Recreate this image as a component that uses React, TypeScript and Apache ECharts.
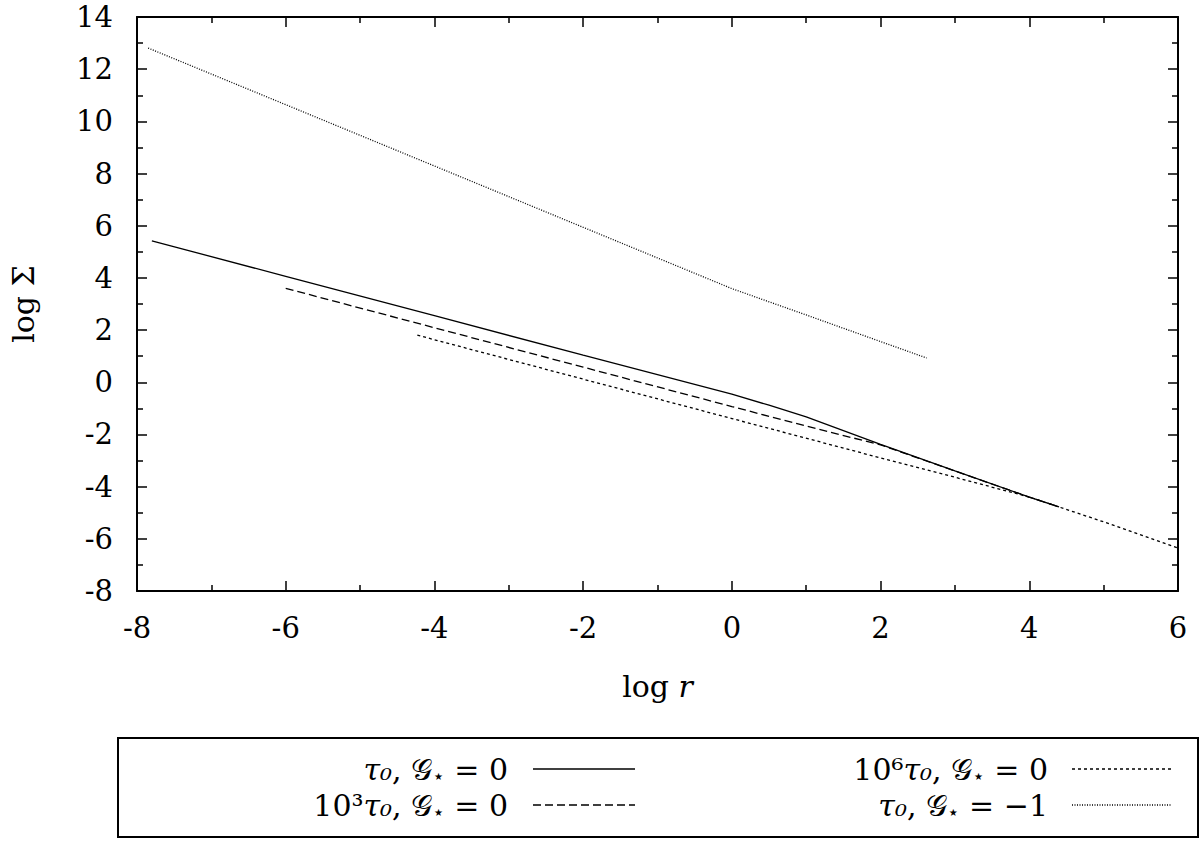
import React, { useEffect, useRef } from 'react';
import * as echarts from 'echarts';

// log r / log Sigma for each model
const rA = [-7.8, -6, -4, -2, 0, 0.5, 1, 2, 3, 4, 4.4];
const sA = [5.42, 4.06, 2.55, 1.04, -0.45, -0.88, -1.33, -2.38, -3.4, -4.4, -4.78];

const rB = [-6, -4, -2, 0, 1, 2, 3, 4, 4.4];
const sB = [3.6, 2.09, 0.58, -0.93, -1.68, -2.4, -3.4, -4.4, -4.78];

const rC = [-4.23, -4, -2, 0, 2, 3, 4, 5, 6];
const sC = [1.81, 1.63, 0.12, -1.39, -2.9, -3.64, -4.4, -5.35, -6.35];

const rD = [-7.85, -6, -4, -2, 0, 1, 2, 2.62];
const sD = [12.81, 10.64, 8.29, 5.94, 3.59, 2.58, 1.56, 0.93];

const xTicks = [-8, -6, -4, -2, 0, 2, 4, 6];
const yTicks = [-8, -6, -4, -2, 0, 2, 4, 6, 8, 10, 12, 14];

const seriesNames = ['tau0_G0', 'tau0e3_G0', 'tau0e6_G0', 'tau0_Gm1'];

const FONT = 'DejaVu Serif';

const pairs = (xs: number[], ys: number[]) => xs.map((x, i) => [x, ys[i]]);

export default function App() {
  const ref = useRef<HTMLDivElement>(null);
  useEffect(() => {
    if (!ref.current) return;
    const chart = echarts.init(ref.current, undefined, { renderer: 'svg' });
    const axisCommon = {
      type: 'value' as const,
      interval: 2,
      axisLine: { show: true, onZero: false, lineStyle: { color: '#000', width: 2 } },
      axisTick: { show: true, inside: true, length: 10, lineStyle: { color: '#000', width: 1.5 } },
      minorTick: { show: true, splitNumber: 2, length: 6, lineStyle: { color: '#000', width: 1.5 } },
      splitLine: { show: false },
    };
    const rich = {
      i: { fontFamily: FONT, fontStyle: 'italic', fontSize: 30, lineHeight: 34, color: '#000' },
      u: { fontFamily: FONT, fontSize: 30, lineHeight: 34, color: '#000' },
      g: { fontFamily: FONT, fontSize: 30, lineHeight: 34, color: '#000' },
      st: { fontFamily: 'DejaVu Sans', fontSize: 20, lineHeight: 18, verticalAlign: 'bottom', color: '#000' },
    };
    const legendItems = [
      { text: '{i|τ₀}{u|, }{g|𝒢}{st|⋆}{u| = 0}', x: 508, y: 769, x1: 533, x2: 635, dash: null as any },
      { text: '{u|10³}{i|τ₀}{u|, }{g|𝒢}{st|⋆}{u| = 0}', x: 508, y: 805, x1: 533, x2: 635, dash: [8, 4] },
      { text: '{u|10⁶}{i|τ₀}{u|, }{g|𝒢}{st|⋆}{u| = 0}', x: 1048, y: 769, x1: 1072, x2: 1172, dash: [3, 3] },
      { text: '{i|τ₀}{u|, }{g|𝒢}{st|⋆}{u| = −1}', x: 1048, y: 805, x1: 1072, x2: 1172, dash: [1, 1.5] },
    ];
    const graphic: any[] = [
      {
        type: 'rect',
        shape: { x: 118, y: 738, width: 1080, height: 99 },
        style: { fill: 'none', stroke: '#000', lineWidth: 2 },
      },
    ];
    legendItems.forEach((it) => {
      graphic.push({
        type: 'text',
        x: it.x,
        y: it.y,
        style: { text: it.text, align: 'right', verticalAlign: 'middle', rich },
      });
      graphic.push({
        type: 'line',
        shape: { x1: it.x1, y1: it.y, x2: it.x2, y2: it.y },
        style: { stroke: '#000', lineWidth: 1.3, lineDash: it.dash || undefined },
      });
    });
    const lineStyles = [
      { type: 'solid' as any, width: 1.3 },
      { type: [8, 4] as any, width: 1.3 },
      { type: [3, 3] as any, width: 1.3 },
      { type: [1, 1.5] as any, width: 1.3 },
    ];
    const data = [pairs(rA, sA), pairs(rB, sB), pairs(rC, sC), pairs(rD, sD)];
    chart.setOption({
      animation: false,
      backgroundColor: '#fff',
      grid: { left: 137, right: 22, top: 17, bottom: 250, show: false },
      xAxis: [
        {
          ...axisCommon,
          min: -8,
          max: 6,
          position: 'bottom',
          name: '{u|log }{i|r}',
          nameLocation: 'middle',
          nameGap: 78,
          nameTextStyle: { rich },
          axisLabel: {
            fontFamily: FONT,
            fontSize: 29,
            color: '#000',
            margin: 22,
            formatter: (v: number) => (xTicks.includes(v) ? String(v) : ''),
          },
        },
        {
          ...axisCommon,
          min: -8,
          max: 6,
          position: 'top',
          axisLabel: { show: false },
        },
      ],
      yAxis: [
        {
          ...axisCommon,
          min: -8,
          max: 14,
          position: 'left',
          name: '{u|log Σ}',
          nameLocation: 'middle',
          nameRotate: 90,
          nameGap: 97,
          nameTextStyle: { rich },
          axisLabel: {
            fontFamily: FONT,
            fontSize: 29,
            color: '#000',
            margin: 24,
            formatter: (v: number) => (yTicks.includes(v) ? String(v) : ''),
          },
        },
        {
          ...axisCommon,
          min: -8,
          max: 14,
          position: 'right',
          axisLabel: { show: false },
        },
      ],
      series: data.map((d, i) => ({
        name: seriesNames[i],
        type: 'line',
        data: d,
        showSymbol: false,
        symbol: 'none',
        lineStyle: { color: '#000', ...lineStyles[i] },
      })),
      graphic,
    });
    return () => chart.dispose();
  }, []);
  return (
    <div
      ref={ref}
      style={{ position: 'absolute', left: 0, top: 0, width: 1200, height: 841, background: '#fff' }}
    />
  );
}
